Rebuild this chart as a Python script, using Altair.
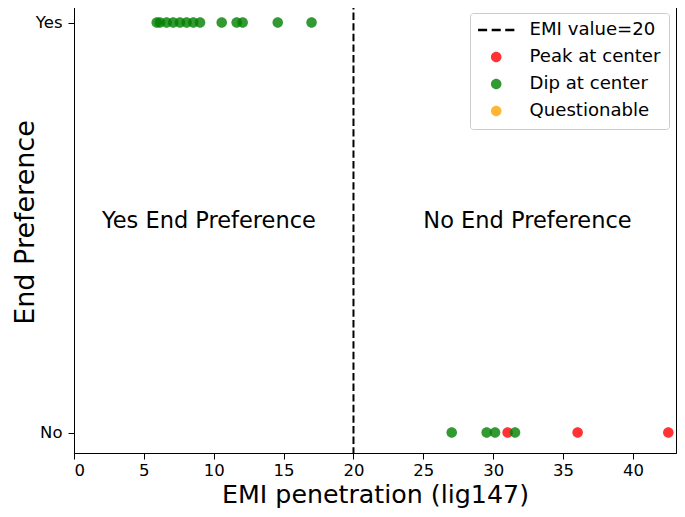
import altair as alt
import pandas as pd

# ---- data ----
yes_emi = [5.92, 6.15, 6.63, 7.1, 7.58, 8.06, 8.54, 9.02, 10.57, 11.64, 12.07, 14.58, 17.0]
yes_type = ["Dip at center", "Dip at center", "Dip at center", "Dip at center",
            "Dip at center", "Dip at center", "Dip at center", "Dip at center",
            "Dip at center", "Dip at center", "Dip at center", "Dip at center",
            "Dip at center"]
no_emi = [42.53, 36.04, 31.03, 27.03, 29.53, 30.13, 31.56]
no_type = ["Peak at center", "Peak at center", "Peak at center",
           "Dip at center", "Dip at center", "Dip at center", "Dip at center"]

threshold = [20]
categories = ["EMI value=20", "Peak at center", "Dip at center", "Questionable"]
cat_colors = ["#000000", "rgba(255,0,0,0.8)", "rgba(0,128,0,0.8)", "rgba(255,165,0,0.8)"]

ann_text = ["Yes End Preference", "No End Preference"]
ann_x = [2, 25]
ann_y = [0.5, 0.5]

x_ticks = [0, 5, 10, 15, 20, 25, 30, 35, 40]

# legend symbol shapes (dashed line for the threshold, circles for points)
dash_path = ("M-2.135,-0.14H-1.065V0.14H-2.135Z "
             "M-0.535,-0.14H0.535V0.14H-0.535Z "
             "M1.065,-0.14H2.135V0.14H1.065Z")
circle_path = "M-0.62,0A0.62,0.62,0,1,1,0.62,0A0.62,0.62,0,1,1,-0.62,0Z"
cat_shapes = [dash_path, circle_path, circle_path, circle_path]

FONT = "DejaVu Sans"

pts = pd.DataFrame({
    "emi": no_emi + yes_emi,
    "pref": [0] * len(no_emi) + [1] * len(yes_emi),
    "type": no_type + yes_type,
})
ann = pd.DataFrame({"x": ann_x, "y": ann_y, "text": ann_text})
thr = pd.DataFrame({"x": threshold})

xscale = alt.Scale(domain=[0, 43.08], nice=False, zero=False)
yscale = alt.Scale(domain=[-0.05, 1.05], nice=False, zero=False)

xaxis = alt.Axis(values=x_ticks, title="EMI penetration (lig147)", grid=False,
                 domainColor="black", tickColor="black", tickSize=6,
                 labelFont=FONT, labelFontSize=16.5, labelColor="black", labelPadding=3,
                 titleFont=FONT, titleFontSize=25.3, titleFontWeight="normal",
                 titleColor="black", titleY=49, titleBaseline="alphabetic")
yaxis = alt.Axis(values=[0, 1], labelExpr="datum.value == 1 ? 'Yes' : 'No'",
                 title="End Preference", grid=False,
                 domainColor="black", tickColor="black", tickSize=6,
                 labelFont=FONT, labelFontSize=16.5, labelColor="black", labelPadding=6,
                 titleFont=FONT, titleFontSize=27, titleFontWeight="normal",
                 titleColor="black", titleX=-41, titleY=220, titleAngle=270,
                 titleBaseline="alphabetic")

legend = alt.Legend(title=None, orient="none", legendX=396, legendY=11,
                    padding=8, rowPadding=8, labelOffset=24.3, symbolOffset=9.15,
                    symbolSize=289, symbolStrokeWidth=0,
                    labelFont=FONT, labelFontSize=18.1, labelColor="black",
                    strokeColor="#cccccc", fillColor="rgba(255,255,255,0.8)",
                    cornerRadius=3)

rule = alt.Chart(thr).mark_rule(color="black", strokeWidth=2, strokeDash=[7.4, 3.2]).encode(
    x=alt.X("x:Q", scale=xscale, axis=xaxis)
)

points = alt.Chart(pts).mark_point(filled=True, size=289, opacity=1).encode(
    x=alt.X("emi:Q", scale=xscale, axis=xaxis),
    y=alt.Y("pref:Q", scale=yscale, axis=yaxis),
    color=alt.Color("type:N", scale=alt.Scale(domain=categories, range=cat_colors), legend=legend),
    shape=alt.Shape("type:N", scale=alt.Scale(domain=categories, range=cat_shapes), legend=legend),
)

texts = alt.Chart(ann).mark_text(align="left", baseline="alphabetic", font=FONT,
                                 fontSize=22.5, color="black").encode(
    x=alt.X("x:Q", scale=xscale, axis=xaxis),
    y=alt.Y("y:Q", scale=yscale, axis=yaxis),
    text="text:N",
)

chart = alt.layer(rule, points, texts).properties(
    width=602, height=451,
    autosize=alt.AutoSizeParams(type="none"),
    padding={"left": 66, "top": -6, "right": 1, "bottom": 56},
).configure_view(stroke="black", strokeWidth=1)

chart.save("out.html", embed_options={"renderer": "svg", "actions": False})
